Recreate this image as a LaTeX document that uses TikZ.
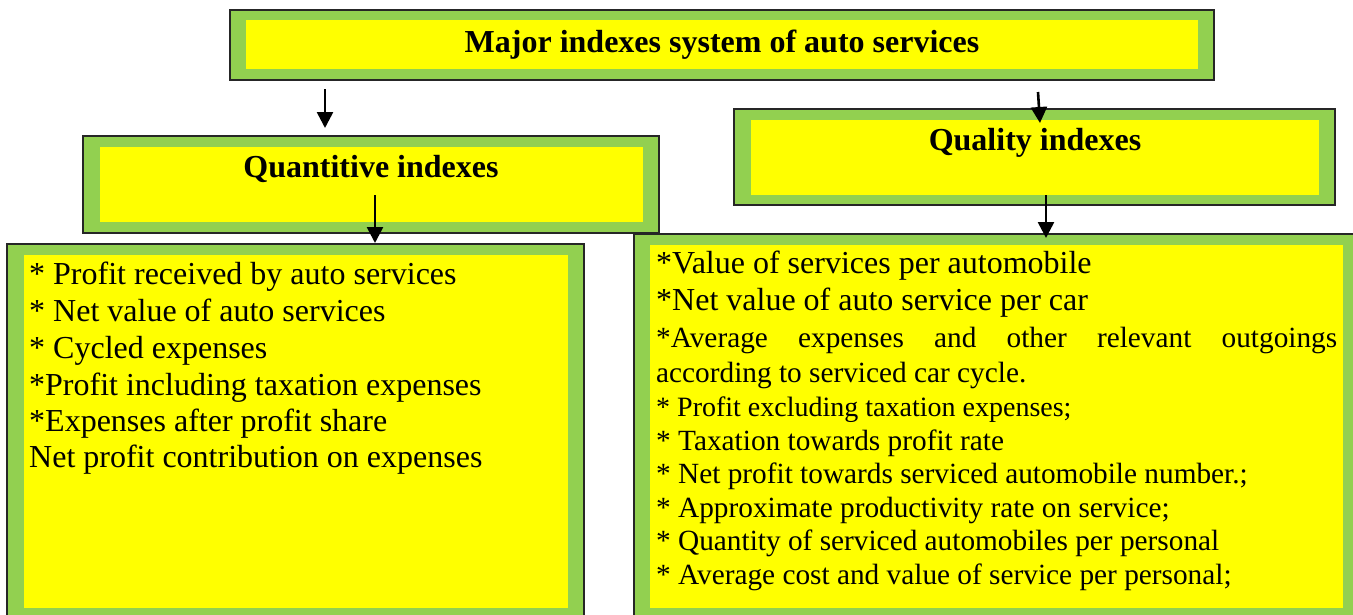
\documentclass[tikz,border=0pt]{standalone}
\usepackage{fontspec}
\setmainfont{Liberation Serif}
\usetikzlibrary{arrows.meta}
\definecolor{bandgreen}{HTML}{92D050}
\definecolor{fillyellow}{HTML}{FFFF00}
\tikzset{
  outerbox/.style={draw=black!85, fill=bandgreen, line width=1.6pt, inner sep=0pt, outer sep=0pt, anchor=north west},
  innerfill/.style={fill=fillyellow},
  headtext/.style={anchor=base, inner sep=0pt, font=\fontsize{32}{37}\selectfont\bfseries},
  bigline/.style={anchor=base west, inner sep=0pt, font=\fontsize{32}{37}\selectfont},
  smallline/.style={anchor=base west, inner sep=0pt, font=\fontsize{29.3}{33}\selectfont},
  arr/.style={line width=2.6pt, -{Triangle[length=16pt,width=16pt]}}
}
\begin{document}
\begin{tikzpicture}[x=1pt,y=-1pt]
\useasboundingbox (0,0) rectangle (1353,614);
% boxes
\node[outerbox, minimum width=984, minimum height=70] (top) at (230,10) {};
\fill[innerfill] (246,20) rectangle (1198,69);
\node[outerbox, minimum width=576, minimum height=97] (quant) at (83,136) {};
\fill[innerfill] (100,147) rectangle (643,222);
\node[outerbox, minimum width=601, minimum height=96] (qual) at (734,109) {};
\fill[innerfill] (751,120) rectangle (1319,195);
\node[outerbox, minimum width=577, minimum height=380] (left) at (7,244) {};
\fill[innerfill] (24,255) rectangle (568,608);
\node[outerbox, minimum width=730, minimum height=390] (right) at (634,234) {};
\fill[innerfill] (650,245) rectangle (1343,608);
% headings
\node[headtext] (toptxt) at (722,52) {Major indexes system of auto services};
\node[headtext] (quanttxt) at (371,177) {Quantitive indexes};
\node[headtext] (qualtxt) at (1035,150) {Quality indexes};
% left list
\node[bigline] (l1) at (29,284) {* Profit received by auto services};
\node[bigline] (l2) at (29,321) {* Net value of auto services};
\node[bigline] (l3) at (29,358) {* Cycled expenses};
\node[bigline] (l4) at (29,395) {*Profit including taxation expenses};
\node[bigline] (l5) at (29,431) {*Expenses after profit share};
\node[bigline] (l6) at (29,467) {Net profit contribution on expenses};
% right list
\node[bigline] (r1) at (656,273) {*Value of services per automobile};
\node[bigline] (r2) at (656,310) {*Net value of auto service per car};
\node[smallline] (r3) at (656,347) {\makebox[681pt][s]{*Average expenses and other relevant outgoings}};
\node[smallline] (r4) at (656,382) {according to serviced car cycle.};
\node[smallline, font=\fontsize{28}{33}\selectfont] (r5) at (656,416) {* Profit excluding taxation expenses;};
\node[smallline] (r6) at (656,450) {* Taxation towards profit rate};
\node[smallline] (r7) at (656,483) {* Net profit towards serviced automobile number.;};
\node[smallline] (r8) at (656,517) {* Approximate productivity rate on service;};
\node[smallline] (r9) at (656,550) {* Quantity of serviced automobiles per personal};
\node[smallline] (r10) at (656,584) {* Average cost and value of service per personal;};
% arrows
\coordinate (a1s) at (325,89);
\coordinate (a1e) at (325,128);
\coordinate (a2s) at (375,195);
\coordinate (a2e) at (375,243);
\coordinate (a3s) at (1038,92);
\coordinate (a3e) at (1040,123);
\coordinate (a4s) at (1046,195);
\coordinate (a4e) at (1046,238);
\draw[arr] (a1s) -- (a1e);
\draw[arr] (a2s) -- (a2e);
\draw[arr] (a3s) -- (a3e);
\draw[arr] (a4s) -- (a4e);
\end{tikzpicture}
\end{document}
